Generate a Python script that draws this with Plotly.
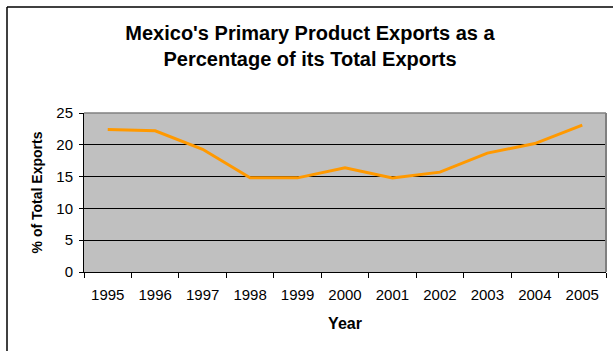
import plotly.graph_objects as go

years = ["1995", "1996", "1997", "1998", "1999", "2000",
         "2001", "2002", "2003", "2004", "2005"]
primary_share = [22.4, 22.2, 19.3, 14.8, 14.8, 16.4, 14.8, 15.7, 18.7, 20.2, 23.1]

font_family = "Liberation Sans, Arial, sans-serif"

# plotting-area geometry in pixels
W, H = 613, 351
L, R, T, B = 84, 7, 113, 79
pw, ph = W - L - R, H - T - B

fig = go.Figure()
fig.add_trace(go.Scatter(
    x=years, y=primary_share, mode="lines",
    line=dict(color="#FF9900", width=3),
    hoverinfo="x+y", showlegend=False,
))

fig.update_layout(
    width=W, height=H,
    margin=dict(l=L, r=R, t=T, b=B),
    paper_bgcolor="white",
    plot_bgcolor="#C0C0C0",
    font=dict(family=font_family, color="black", size=15),
    title=dict(
        text="<b>Mexico's Primary Product Exports as a<br>Percentage of its Total Exports</b>",
        x=310 / W, xref="container", xanchor="center",
        y=1 - 40 / H, yref="container", yanchor="middle",
        font=dict(size=20, family=font_family),
    ),
    xaxis=dict(
        type="category",
        range=[-0.5, len(years) - 0.5],
        tickson="boundaries",
        ticks="outside", ticklen=5, tickcolor="black",
        showline=True, linecolor="black", linewidth=1,
        showgrid=False,
        ticklabelstandoff=9,
        tickfont=dict(size=15),
        title=dict(text="<b>Year</b>", font=dict(size=16), standoff=15),
    ),
    yaxis=dict(
        range=[0, 25], dtick=5,
        ticks="outside", ticklen=4, tickcolor="black",
        showline=True, linecolor="black", linewidth=1,
        showgrid=True, gridcolor="black", gridwidth=1,
        zeroline=False,
        ticklabelstandoff=3,
        tickfont=dict(size=15),
        title=dict(text="<b>% of Total Exports</b>", font=dict(size=14), standoff=10),
    ),
    shapes=[
        # grey frame on the top and right of the plotting area
        dict(type="line", xref="paper", yref="paper", x0=0, x1=1, y0=1, y1=1,
             line=dict(color="#808080", width=1.5)),
        dict(type="line", xref="paper", yref="paper", x0=1, x1=1, y0=0, y1=1,
             line=dict(color="#808080", width=2)),
        # outer chart border (left and top edges)
        dict(type="line", xref="paper", yref="paper",
             x0=(7 - L) / pw, x1=(W + 5 - L) / pw,
             y0=(H - B - 7) / ph, y1=(H - B - 7) / ph,
             line=dict(color="black", width=1.5)),
        dict(type="line", xref="paper", yref="paper",
             x0=(7 - L) / pw, x1=(7 - L) / pw,
             y0=-(B + 5) / ph, y1=(H - B - 7) / ph,
             line=dict(color="black", width=1.5)),
    ],
)

fig.write_html("out.html")
